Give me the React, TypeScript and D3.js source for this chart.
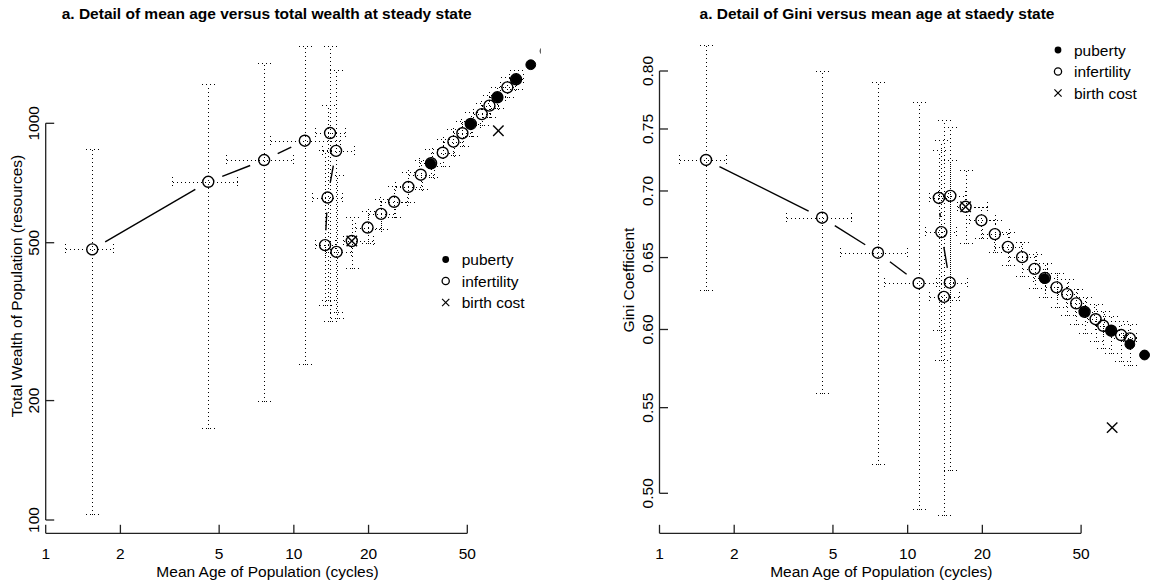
import React from "react";
import * as d3 from "d3";

const FONT = "'Liberation Sans', Arial, Helvetica, sans-serif";

// Infertility sweep: mean age (cycles), with min / max over runs
const infAge = [1.54, 4.52, 7.59, 11.07, 13.99, 14.79, 13.67, 13.36, 14.86, 17.12, 19.82, 22.46, 25.35, 28.93, 32.47, 35.73, 39.82, 43.95, 47.77, 51.64, 57.2, 61.4, 66.1, 72.5, 78.6];
const infAgeLo = [1.196, 3.22, 5.33, 8.02, 12.2, 13.0, 11.8, 12.2, 13.3, 15.8, 17.6, 19.9, 22.3, 25.6, 28.8, 32.0, 35.9, 39.9, 43.6, 47.3, 52.6, 56.8, 61.4, 67.7, 73.6];
const infAgeHi = [1.862, 5.89, 9.95, 15.3, 16.1, 17.4, 15.6, 14.6, 17.0, 20.9, 22.4, 25.6, 28.7, 32.9, 36.6, 40.0, 44.3, 48.2, 52.3, 56.2, 62.0, 66.2, 71.1, 77.6, 83.6];

// Infertility sweep: total wealth (resources)
const infWealth = [481, 712, 808, 904, 945, 852, 650, 493, 474, 505, 546, 591, 634, 691, 742, 793, 843, 899, 944, 996, 1055, 1108, 1163, 1232, 1291];
const infWealthLo = [103.4, 171, 199.6, 248, 318, 335, 358, 348, 323, 431, 498, 540, 580, 634, 682, 731, 780, 834, 878, 930, 988, 1040, 1094, 1162, 1222];
const infWealthHi = [859, 1253, 1417, 1567, 1567, 1363, 1110, 855, 740, 582, 600, 646, 694, 754, 808, 860, 912, 968, 1014, 1066, 1126, 1180, 1236, 1306, 1364];

// Infertility sweep: Gini coefficient
const infGini = [0.7246, 0.6795, 0.6535, 0.6317, 0.6222, 0.6321, 0.6687, 0.6946, 0.6962, 0.6878, 0.6775, 0.6672, 0.6578, 0.6503, 0.6419, 0.6355, 0.6288, 0.6241, 0.6177, 0.6119, 0.6069, 0.6025, 0.5992, 0.5963, 0.5941];
const infGiniLo = [0.6269, 0.5591, 0.5166, 0.4913, 0.4881, 0.5132, 0.5799, 0.5998, 0.62, 0.6604, 0.6645, 0.654, 0.6445, 0.637, 0.6285, 0.622, 0.615, 0.61, 0.6035, 0.5975, 0.5925, 0.588, 0.5845, 0.579, 0.577];
const infGiniHi = [0.8235, 0.8, 0.7905, 0.7725, 0.7576, 0.7517, 0.7409, 0.7327, 0.7246, 0.7165, 0.688, 0.678, 0.6685, 0.661, 0.6525, 0.646, 0.639, 0.6345, 0.628, 0.622, 0.617, 0.6125, 0.609, 0.606, 0.604];

// Puberty sweep
const pubAge = [35.6, 51.6, 66.1, 78.6, 90.1, 102.9];
const pubWealth = [791, 996, 1163, 1291, 1405, 1521];
const pubGini = [0.635, 0.6119, 0.5992, 0.5902, 0.5832, 0.577];

// Birth cost sweep
const bcAge = [17.12, 66.7];
const bcWealth = [505, 958];
const bcGini = [0.6878, 0.5379];

const xTicks = [1, 2, 5, 10, 20, 50];
const wealthTicks = [100, 200, 500, 1000];
const giniTicks = [0.5, 0.55, 0.6, 0.65, 0.7, 0.75, 0.8];
const legendLabels = ["puberty", "infertility", "birth cost"];

const FS = 15.5;
const TICK = 8.5;
const GAP = 15; // gap left around points by the connecting line
const R = 5.5;

type PanelProps = {
  id: string;
  title: string;
  titleX: number;
  yLabel: string;
  yLabelX: number;
  yLabelY: number;
  xRange: [number, number];
  yDomain: [number, number];
  yRange: [number, number];
  yTicks: number[];
  yFmt: (v: number) => string;
  y: number[];
  yLo: number[];
  yHi: number[];
  pubY: number[];
  bcY: number[];
  legendX: number;
  legendY: number;
  clip: [number, number];
};

function Cross({ x, y, s, w }: { x: number; y: number; s: number; w: number }) {
  return (
    <g stroke="#000" strokeWidth={w}>
      <line x1={x - s} y1={y - s} x2={x + s} y2={y + s} />
      <line x1={x - s} y1={y + s} x2={x + s} y2={y - s} />
    </g>
  );
}

// snap to pixel centres so the dotted ranges render as crisp single dots
const px = (v: number) => Math.round(v) + 0.5;

function Panel(p: PanelProps) {
  const x = d3.scaleLog().domain([1, 50]).range(p.xRange);
  const y = d3.scaleLog().domain(p.yDomain).range(p.yRange);
  const axisY = 533.3;
  const axisX = p.xRange[0];
  const yTop = y(p.yTicks[p.yTicks.length - 1]);
  const yBot = y(p.yTicks[0]);

  const pts = infAge.map((a, i) => [x(a), y(p.y[i])] as [number, number]);
  const segs: string[] = [];
  for (let i = 0; i < pts.length - 1; i++) {
    const [x1, y1] = pts[i];
    const [x2, y2] = pts[i + 1];
    const d = Math.hypot(x2 - x1, y2 - y1);
    if (d > 2 * GAP) {
      const ux = (x2 - x1) / d, uy = (y2 - y1) / d;
      const path = d3.path();
      path.moveTo(x1 + ux * GAP, y1 + uy * GAP);
      path.lineTo(x2 - ux * GAP, y2 - uy * GAP);
      segs.push(path.toString());
    }
  }

  const dot = "1 3";
  const capW = 7;
  const capH = 6;

  return (
    <g>
      <defs>
        <clipPath id={p.id}>
          <rect x={p.clip[0]} y={30} width={p.clip[1] - p.clip[0]} height={510} />
        </clipPath>
      </defs>
      <text x={p.titleX} y={18.8} textAnchor="middle" fontFamily={FONT} fontSize={FS} fontWeight="bold">
        {p.title}
      </text>

      {/* axes */}
      <g stroke="#222" strokeWidth={1.3} fill="none">
        <line x1={x(1)} x2={x(50)} y1={axisY} y2={axisY} />
        {xTicks.map((t) => (
          <line key={t} x1={x(t)} x2={x(t)} y1={axisY} y2={axisY - TICK} />
        ))}
        <line x1={axisX} x2={axisX} y1={yTop} y2={yBot} />
        {p.yTicks.map((t) => (
          <line key={t} x1={axisX} x2={axisX + TICK} y1={y(t)} y2={y(t)} />
        ))}
      </g>
      <g fontFamily={FONT} fontSize={FS} fill="#000">
        {xTicks.map((t) => (
          <text key={t} x={x(t)} y={558.5} textAnchor="middle">{t}</text>
        ))}
        {p.yTicks.map((t) => (
          <text key={t} transform={`translate(${axisX - 7},${y(t)}) rotate(-90)`} textAnchor="middle">
            {p.yFmt(t)}
          </text>
        ))}
        <text x={(x(1) + x(50)) / 2 + 11} y={577} textAnchor="middle">Mean Age of Population (cycles)</text>
        <text transform={`translate(${p.yLabelX},${p.yLabelY}) rotate(-90)`} textAnchor="middle">{p.yLabel}</text>
      </g>

      <g clipPath={`url(#${p.id})`}>
        {/* min / max ranges */}
        <g stroke="#000" strokeWidth={1} strokeDasharray={dot} fill="none" shapeRendering="crispEdges">
          {infAge.map((a, i) => {
            const cx = px(x(a)), cy = px(y(p.y[i]));
            const lo = px(y(p.yLo[i])), hi = px(y(p.yHi[i]));
            const xl = px(x(infAgeLo[i])), xh = px(x(infAgeHi[i]));
            return (
              <g key={i}>
                <line x1={cx} x2={cx} y1={lo} y2={hi} />
                <line x1={cx - capW} x2={cx + capW} y1={lo} y2={lo} />
                <line x1={cx - capW} x2={cx + capW} y1={hi} y2={hi} />
                <line x1={xl} x2={xh} y1={cy} y2={cy} />
                <line x1={xl} x2={xl} y1={cy - capH} y2={cy + capH} />
                <line x1={xh} x2={xh} y1={cy - capH} y2={cy + capH} />
              </g>
            );
          })}
        </g>

        {/* infertility sweep connecting line */}
        <g stroke="#000" strokeWidth={1.4} fill="none">
          {segs.map((d, i) => (
            <path key={i} d={d} />
          ))}
        </g>

        {/* points */}
        {pts.map(([cx, cy], i) => (
          <circle key={`i${i}`} cx={cx} cy={cy} r={R} fill="none" stroke="#000" strokeWidth={1.4} />
        ))}
        {pubAge.map((a, i) => (
          <circle key={`p${i}`} cx={x(a)} cy={y(p.pubY[i])} r={R - 0.6} fill="#000" stroke="#000" strokeWidth={1} />
        ))}
        {bcAge.map((a, i) => (
          <Cross key={`b${i}`} x={x(a)} y={y(p.bcY[i])} s={5.2} w={1.4} />
        ))}
      </g>

      {/* legend */}
      <g fontFamily={FONT} fontSize={FS}>
        {legendLabels.map((lab, i) => {
          const ly = p.legendY + i * 21.5;
          return (
            <g key={lab}>
              {i === 0 && <circle cx={p.legendX} cy={ly} r={3.4} fill="#000" />}
              {i === 1 && <circle cx={p.legendX} cy={ly} r={3.6} fill="none" stroke="#000" strokeWidth={1.3} />}
              {i === 2 && <Cross x={p.legendX} y={ly} s={3.6} w={1.2} />}
              <text x={p.legendX + 16} y={ly + 5.5}>{lab}</text>
            </g>
          );
        })}
      </g>
    </g>
  );
}

export default function App() {
  return (
    <svg
      width={1151}
      height={584}
      style={{ position: "absolute", left: 0, top: 0, background: "#fff" }}
    >
      <rect width={1151} height={584} fill="#fff" />
      <Panel
        id="clipL"
        title="a. Detail of mean age versus total wealth at steady state"
        titleX={266.7}
        yLabel="Total Wealth of Population (resources)"
        yLabelX={22.2}
        yLabelY={286}
        xRange={[45.7, 467.3]}
        yDomain={[100, 1000]}
        yRange={[520, 123.3]}
        yTicks={wealthTicks}
        yFmt={(v) => String(v)}
        y={infWealth}
        yLo={infWealthLo}
        yHi={infWealthHi}
        pubY={pubWealth}
        bcY={bcWealth}
        legendX={445.7}
        legendY={259.5}
        clip={[20, 540.5]}
      />
      <Panel
        id="clipR"
        title="a. Detail of Gini versus mean age at staedy state"
        titleX={877}
        yLabel="Gini Coefficient"
        yLabelX={634}
        yLabelY={280}
        xRange={[659.5, 1081.1]}
        yDomain={[0.5, 0.8]}
        yRange={[493.3, 71]}
        yTicks={giniTicks}
        yFmt={(v) => v.toFixed(2)}
        y={infGini}
        yLo={infGiniLo}
        yHi={infGiniHi}
        pubY={pubGini}
        bcY={bcGini}
        legendX={1058}
        legendY={50}
        clip={[600, 1160]}
      />
    </svg>
  );
}
